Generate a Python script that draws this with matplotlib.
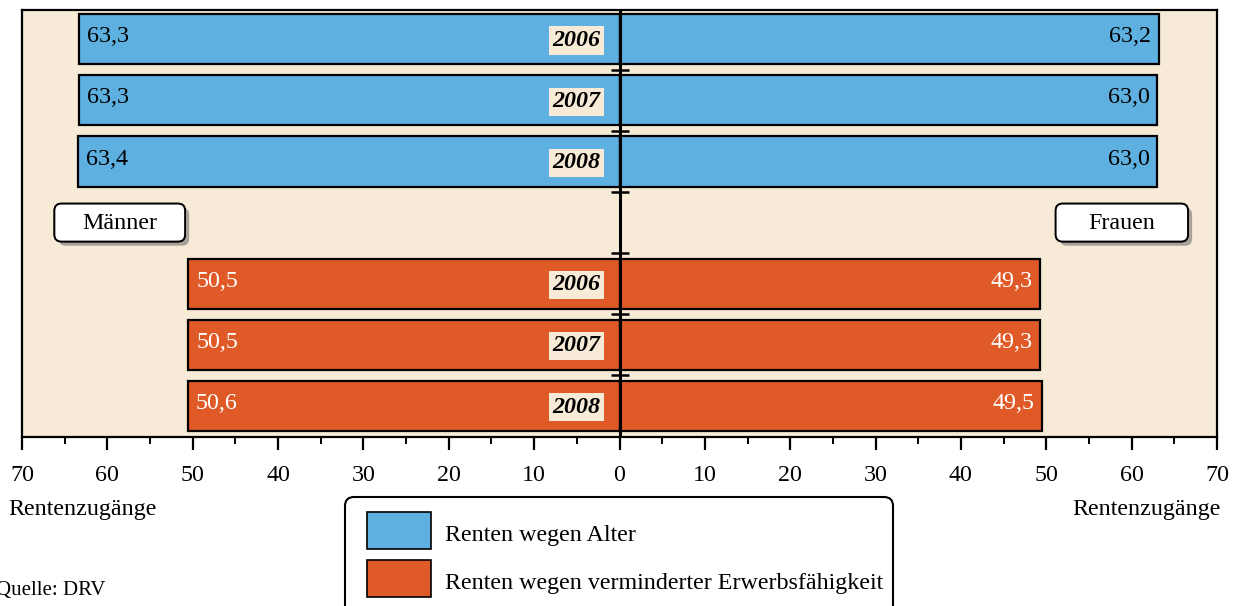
import matplotlib
matplotlib.use("Agg")
import matplotlib.pyplot as plt
from matplotlib.patches import FancyBboxPatch, Patch, Rectangle
from matplotlib.legend_handler import HandlerPatch
from matplotlib.ticker import MultipleLocator, FuncFormatter
import matplotlib.patheffects as pe

plt.rcParams['font.family'] = ['Liberation Serif', 'DejaVu Serif']

# Werte (Durchschnittsalter bei Rentenzugang)
years = ['2006', '2007', '2008']
alter_maenner = [63.3, 63.3, 63.4]
alter_frauen = [63.2, 63.0, 63.0]
ewm_maenner = [50.5, 50.5, 50.6]
ewm_frauen = [49.3, 49.3, 49.5]
series_labels = ['Renten wegen Alter', 'Renten wegen verminderter Erwerbsfähigkeit']

blue = '#5db0df'
orange = '#e05a28'
beige = '#f7ebd7'
fs = 17.3
W, H = 1238, 606

fig = plt.figure(figsize=(W / 100, H / 100), dpi=100)
ax = fig.add_axes([22/W, 1-437/H, (1217-22)/W, (437-10)/H])
ax.set_facecolor(beige)

rows_alter = [0, 1, 2]
rows_ewm = [4, 5, 6]
bh = 0.82


def draw_group(rows, left_vals, right_vals, color, txtcolor):
    ax.barh(rows, [-v for v in left_vals], height=bh, color=color, edgecolor='black', linewidth=1.6, zorder=2)
    ax.barh(rows, right_vals, height=bh, color=color, edgecolor='black', linewidth=1.6, zorder=2)
    for r, lv, rv, yr in zip(rows, left_vals, right_vals, years):
        ax.text(-lv + 0.9, r - 0.04, f'{lv:.1f}'.replace('.', ','), ha='left', va='center',
                fontsize=fs, color=txtcolor, zorder=4)
        ax.text(rv - 0.9, r - 0.04, f'{rv:.1f}'.replace('.', ','), ha='right', va='center',
                fontsize=fs, color=txtcolor, zorder=4)
        ax.text(-2.2, r + 0.02, yr, ha='right', va='center', fontsize=fs, fontweight='bold',
                fontstyle='italic', color='black', zorder=4,
                bbox=dict(boxstyle='square,pad=0.15', fc=beige, ec='none'))


draw_group(rows_alter, alter_maenner, alter_frauen, blue, 'black')
draw_group(rows_ewm, ewm_maenner, ewm_frauen, orange, 'white')

ax.set_xlim(-70, 70)
ax.set_ylim(6.51, -0.48)

# Mittelachse mit Trennstrichen
ax.axvline(0, color='black', lw=2.2, zorder=3)
bounds = [0.5, 1.5, 2.5, 3.5, 4.5, 5.5]
ax.plot([0] * len(bounds), bounds, linestyle='none', marker='_', markersize=13,
        markeredgewidth=1.8, color='black', zorder=3)

# Männer / Frauen Kästchen
px_x = 1 / 8.54
for x0, x1, name in [(-66.2, -50.9, 'Männer'), (51.1, 66.6, 'Frauen')]:
    box = FancyBboxPatch((x0, 3 - 0.31), x1 - x0, 0.62,
                         boxstyle=f'round,pad=0,rounding_size={7 * px_x:.3f}',
                         mutation_aspect=8.54 / 61.1, fc='white', ec='black', lw=1.3, zorder=3)
    box.set_path_effects([pe.withSimplePatchShadow(offset=(3, -3), shadow_rgbFace='#666666', alpha=0.55),
                          pe.Normal()])
    ax.add_patch(box)
    ax.text((x0 + x1) / 2, 3.02, name, ha='center', va='center', fontsize=fs, zorder=4)

# Achsen
for s in ax.spines.values():
    s.set_linewidth(1.6)
ax.set_yticks([])
ax.xaxis.set_major_locator(MultipleLocator(10))
ax.xaxis.set_minor_locator(MultipleLocator(5))
ax.xaxis.set_major_formatter(FuncFormatter(lambda v, p: f'{abs(v):.0f}'))
ax.tick_params(axis='x', which='major', length=9, width=1.6, pad=11, labelsize=fs)
ax.tick_params(axis='x', which='minor', length=5, width=1.4)

fig.text(8/W, 1-510/H, 'Rentenzugänge', ha='left', va='center', fontsize=fs)
fig.text(1221/W, 1-510/H, 'Rentenzugänge', ha='right', va='center', fontsize=fs)
fig.text(-4/W, 1-591/H, 'Quelle: DRV', ha='left', va='center', fontsize=15)


# groessere Farbfelder in der Legende
def big_swatch(legend, orig_handle, xdescent, ydescent, width, height, fontsize):
    return Rectangle((-xdescent, -5.8), width, 26.6)


handles = [Patch(fc=blue, ec='black', lw=1.2), Patch(fc=orange, ec='black', lw=1.2)]
leg = fig.legend(handles, series_labels, loc='upper left', bbox_to_anchor=(367/W, 1-524/H),
                 fontsize=fs, handlelength=2.67, handletextpad=0.58,
                 labelspacing=1.1, borderpad=0, borderaxespad=0, frameon=False,
                 handler_map={Patch: HandlerPatch(patch_func=big_swatch)})

# Legendenrahmen (unten abgeschnitten wie im Original)
frame = FancyBboxPatch((345/W, 1-640/H), 548/W, (640-497)/H,
                       boxstyle=f'round,pad=0,rounding_size={9 / W:.5f}',
                       mutation_aspect=W / H, transform=fig.transFigure,
                       fc='white', ec='black', lw=1.5, zorder=1)
fig.add_artist(frame)

fig.savefig('out.png', dpi=100)
